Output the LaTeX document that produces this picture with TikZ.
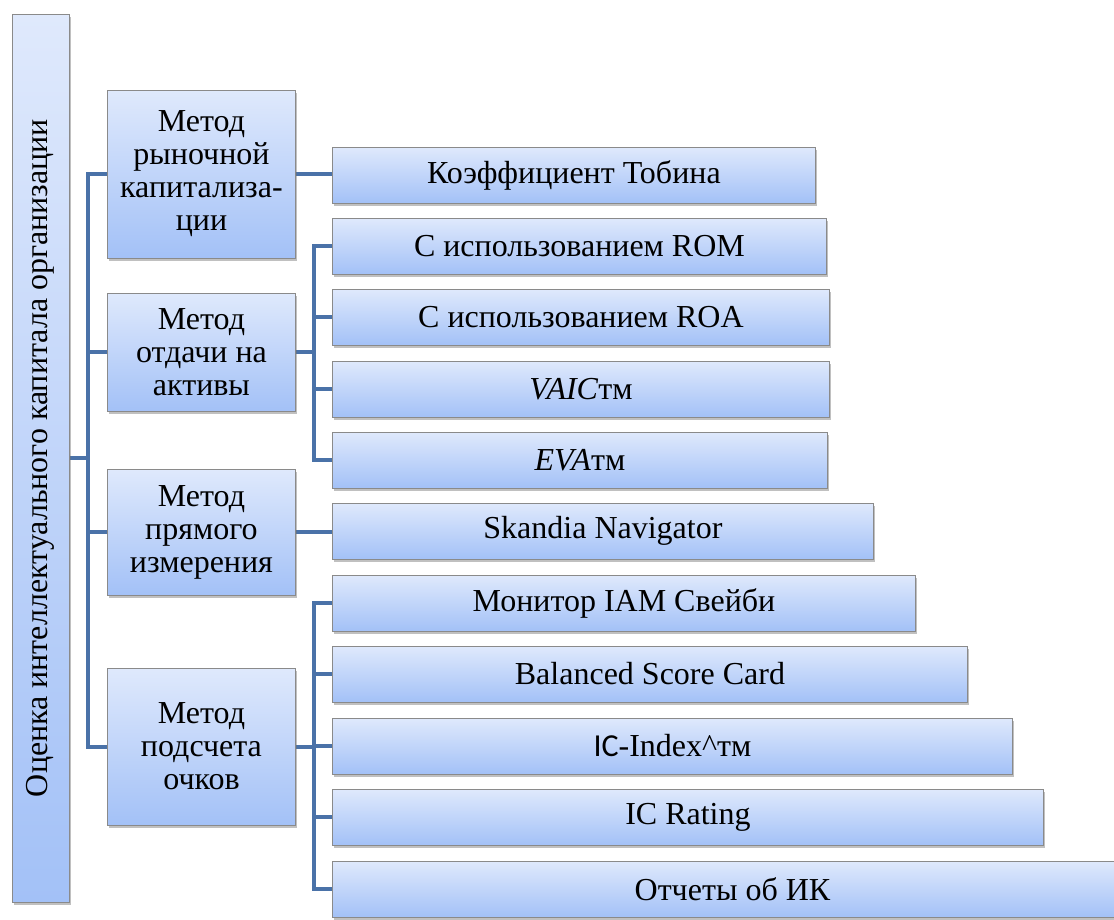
\documentclass[tikz,border=0pt]{standalone}
\usepackage{fontspec}
\setmainfont{Liberation Serif}
\newfontfamily\calfont{Carlito}
\usetikzlibrary{shadows,backgrounds}
\definecolor{boxtop}{HTML}{DFE9FC}
\definecolor{boxbot}{HTML}{A3C1F7}
\definecolor{boxline}{HTML}{8A8A8A}
\definecolor{conncol}{HTML}{4A72A8}
\tikzset{
  box/.style={draw=boxline, line width=0.9pt, top color=boxtop, bottom color=boxbot,
    inner sep=0pt, align=center, font=\fontsize{32}{33}\selectfont,
    drop shadow={shadow xshift=1.5pt, shadow yshift=-2.5pt, opacity=0.45, fill=black!55}},
  leaf/.style={box, minimum height=56pt, anchor=west},
  method/.style={box, minimum width=188pt, anchor=west},
  conn/.style={draw=conncol, line width=4pt}
}
\begin{document}
\begin{tikzpicture}[x=1pt,y=-1pt]
\useasboundingbox (0,0) rectangle (1114,919);
% root
\node[box, minimum width=57pt, minimum height=888pt] (root) at (40.5,458) {};
\node[rotate=90, font=\fontsize{32}{33}\selectfont, inner sep=0pt] (roottext) at (root.center) {Оценка интеллектуального капитала организации};
% methods
\node[method, minimum height=168pt] (m1) at (107,174) {Метод\\рыночной\\капитализа-\\ции};
\node[method, minimum height=118pt] (m2) at (107,352) {Метод\\отдачи на\\активы};
\node[method, minimum height=126pt] (m3) at (107,532) {Метод\\прямого\\измерения};
\node[method, minimum height=157pt] (m4) at (107,746.5) {Метод\\подсчета\\очков};
% leaves
\node[leaf, minimum width=483pt] (l1) at (332,175) {Коэффициент Тобина};
\node[leaf, minimum width=494pt] (l2) at (332,246) {С использованием ROM};
\node[leaf, minimum width=497pt] (l3) at (332,317) {С использованием ROA};
\node[leaf, minimum width=497pt] (l4) at (332,389) {\textit{VAIC}тм};
\node[leaf, minimum width=495pt] (l5) at (332,460) {\textit{EVA}тм};
\node[leaf, minimum width=541pt] (l6) at (332,531) {Skandia Navigator};
\node[leaf, minimum width=583pt] (l7) at (332,603) {Монитор IAM Свейби};
\node[leaf, minimum width=635pt] (l8) at (332,674) {Balanced Score Card};
\node[leaf, minimum width=680pt] (l9) at (332,746) {{\calfont IC}-Index\textasciicircum тм};
\node[leaf, minimum width=711pt] (l10) at (332,817) {IC Rating};
\node[leaf, minimum width=800pt] (l11) at (332,889) {Отчеты об ИК};
% connectors
\begin{scope}[on background layer]
\draw[conn] (root.east) -- ++(19,0);
\draw[conn] (m1.west) -- ++(-19,0) |- (m4.west);
\draw[conn] (m2.west) -- ++(-19,0);
\draw[conn] (m3.west) -- ++(-19,0);
\draw[conn] (m1.east) -- (m1.east -| l1.west);
\draw[conn] (m2.east) -- ++(19,0);
\draw[conn] (l2.west) -- ++(-18,0) |- (l5.west);
\draw[conn] (l3.west) -- ++(-18,0);
\draw[conn] (l4.west) -- ++(-18,0);
\draw[conn] (m3.east) -- (m3.east -| l6.west);
\draw[conn] (m4.east) -- ++(19,0);
\draw[conn] (l7.west) -- ++(-18,0) |- (l11.west);
\draw[conn] (l8.west) -- ++(-18,0);
\draw[conn] (l9.west) -- ++(-18,0);
\draw[conn] (l10.west) -- ++(-18,0);
\end{scope}
\end{tikzpicture}
\end{document}
